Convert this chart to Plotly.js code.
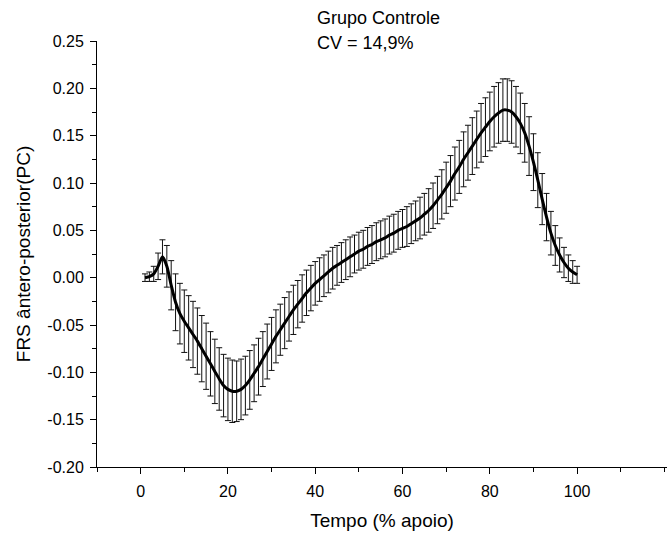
<!DOCTYPE html>
<html>
<head>
<meta charset="utf-8">
<script src="https://cdn.plot.ly/plotly-3.0.1.min.js"></script>
<style>html,body{margin:0;padding:0;background:#fff;}#chart{width:667px;height:535px;}</style>
</head>
<body>
<div id="chart"></div>
<script>
const tempo = [1,2,3,4,5,6,7,8,9,10,11,12,13,14,15,16,17,18,19,20,21,22,23,24,25,26,27,28,29,30,31,32,33,34,35,36,37,38,39,40,41,42,43,44,45,46,47,48,49,50,51,52,53,54,55,56,57,58,59,60,61,62,63,64,65,66,67,68,69,70,71,72,73,74,75,76,77,78,79,80,81,82,83,84,85,86,87,88,89,90,91,92,93,94,95,96,97,98,99,100];
const media = [0.000,0.001,0.004,0.012,0.022,0.012,-0.008,-0.026,-0.038,-0.046,
-0.053,-0.060,-0.067,-0.075,-0.083,-0.091,-0.099,-0.107,-0.114,-0.118,
-0.120,-0.120,-0.118,-0.114,-0.108,-0.101,-0.094,-0.086,-0.078,-0.070,
-0.062,-0.055,-0.048,-0.041,-0.034,-0.028,-0.022,-0.016,-0.011,-0.006,
-0.002,0.002,0.006,0.010,0.013,0.016,0.019,0.022,0.025,0.028,
0.030,0.033,0.035,0.038,0.040,0.042,0.045,0.047,0.050,0.052,
0.054,0.057,0.060,0.063,0.067,0.071,0.076,0.082,0.088,0.095,
0.102,0.110,0.117,0.125,0.132,0.139,0.146,0.153,0.159,0.165,
0.170,0.174,0.177,0.177,0.175,0.170,0.163,0.153,0.139,0.122,
0.103,0.083,0.064,0.047,0.034,0.024,0.016,0.010,0.006,0.003];
const desvio = [0.004,0.005,0.008,0.014,0.018,0.022,0.026,0.030,0.032,0.033,
0.034,0.035,0.035,0.035,0.035,0.034,0.034,0.033,0.033,0.033,
0.033,0.032,0.032,0.031,0.031,0.030,0.030,0.029,0.029,0.028,
0.028,0.027,0.027,0.026,0.026,0.025,0.025,0.024,0.024,0.023,
0.023,0.022,0.022,0.022,0.021,0.021,0.021,0.021,0.020,0.020,
0.020,0.020,0.020,0.020,0.020,0.020,0.020,0.020,0.020,0.020,
0.021,0.021,0.021,0.022,0.022,0.023,0.024,0.025,0.026,0.027,
0.027,0.028,0.028,0.029,0.029,0.030,0.030,0.031,0.031,0.031,
0.032,0.032,0.033,0.033,0.033,0.032,0.032,0.031,0.031,0.030,
0.029,0.027,0.025,0.023,0.021,0.018,0.016,0.014,0.012,0.009];
const xTicks = [0,20,40,60,80,100];
const yTicks = [-0.20,-0.15,-0.10,-0.05,0.00,0.05,0.10,0.15,0.20,0.25];
const yTickText = ["-0.20","-0.15","-0.10","-0.05","0.00","0.05","0.10","0.15","0.20","0.25"];
const titulo1 = "Grupo Controle";
const titulo2 = "CV = 14,9%";

const font = "Arial, 'Liberation Sans', sans-serif";
const trace = {
  x: tempo, y: media, type: 'scatter', mode: 'lines',
  line: {color: '#000', width: 3, shape: 'spline', smoothing: 0.6},
  error_y: {type: 'data', array: desvio, visible: true, color: '#111', thickness: 1, width: 3},
  hoverinfo: 'skip'
};
const layout = {
  width: 667, height: 535,
  margin: {l: 97, r: 0, t: 41, b: 68},
  paper_bgcolor: '#fff', plot_bgcolor: '#fff',
  showlegend: false,
  font: {family: font, color: '#000', size: 16},
  xaxis: {
    range: [-10, 120.6], tickvals: xTicks, ticks: 'outside', ticklen: 6, tickwidth: 1, tickcolor: '#000',
    ticklabelstandoff: 4,
    showline: true, linecolor: '#000', linewidth: 1, showgrid: false, zeroline: false,
    minor: {dtick: 10, tick0: 0, ticks: 'outside', ticklen: 4, tickcolor: '#000', showgrid: false},
    tickfont: {size: 16, family: font},
    title: {text: 'Tempo (% apoio)', font: {size: 19, family: font}, standoff: 14}
  },
  yaxis: {
    range: [-0.2, 0.25], tickvals: yTicks, ticktext: yTickText, ticks: 'outside', ticklen: 6, tickwidth: 1, tickcolor: '#000',
    ticklabelstandoff: 3,
    showline: true, linecolor: '#000', linewidth: 1, showgrid: false, zeroline: false,
    minor: {dtick: 0.025, tick0: 0, ticks: 'outside', ticklen: 4, tickcolor: '#000', showgrid: false},
    tickfont: {size: 16, family: font},
    title: {text: 'FRS ântero-posterior(PC)', font: {size: 19, family: font}, standoff: 11}
  },
  annotations: [
    {text: titulo1, xref: 'paper', yref: 'paper', x: 0.383, y: 1.054, xanchor: 'left', yanchor: 'middle', showarrow: false, font: {size: 18, family: font}},
    {text: titulo2, xref: 'paper', yref: 'paper', x: 0.383, y: 0.995, xanchor: 'left', yanchor: 'middle', showarrow: false, font: {size: 18, family: font}}
  ]
};
Plotly.newPlot('chart', [trace], layout, {displayModeBar: false, staticPlot: true});
</script>
</body>
</html>
